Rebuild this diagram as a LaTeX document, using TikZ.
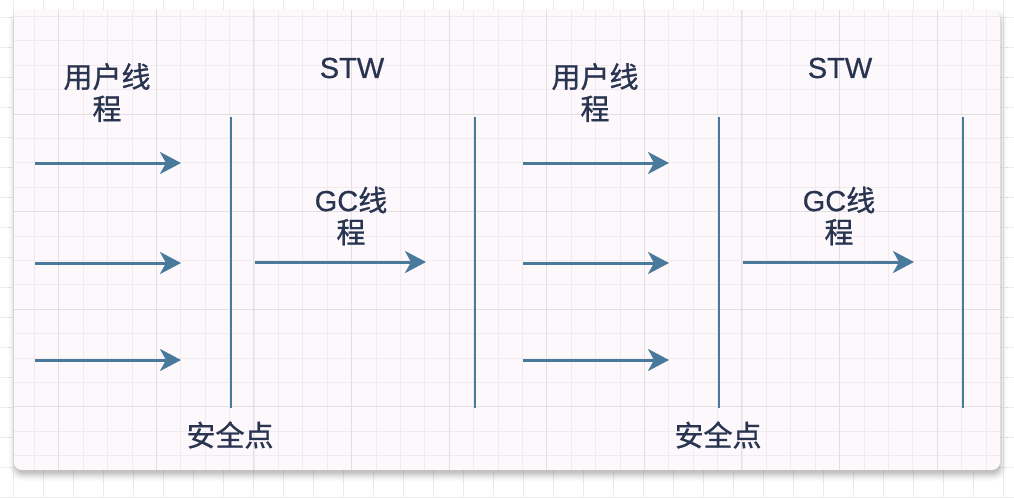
\documentclass[tikz,border=0pt]{standalone}
\usepackage{fontspec}
\setmainfont[FakeBold=0.6]{Liberation Sans}
\newfontfamily\cjk[FakeBold=0.9]{Noto Sans CJK SC}
\usetikzlibrary{arrows.meta, shadows.blur}
\definecolor{flow}{RGB}{74,122,155}
\definecolor{ink}{RGB}{40,52,80}
\definecolor{paper}{RGB}{252,248,251}
\definecolor{gridminor}{RGB}{241,235,239}
\definecolor{gridmajor}{RGB}{228,221,226}
\definecolor{gridout}{RGB}{236,236,236}

\begin{document}
\begin{tikzpicture}[x=1pt, y=-1pt,
    thread/.style={draw=flow, line width=3pt, -{Stealth[length=21pt, width=22pt, inset=6pt]}},
    barrier/.style={draw=flow, line width=2.8pt},
    caption/.style={text=ink, inner sep=0pt, align=center, font=\cjk\fontsize{29}{32}\selectfont}]

    \useasboundingbox (0,0) rectangle (1014,498);

    % background grid
    \foreach \x in {13,43,...,1003} \draw[gridout, line width=0.8pt] (\x,0) -- (\x,498);
    \foreach \y in {17,47,...,497} \draw[gridout, line width=0.8pt] (0,\y) -- (1014,\y);

    % card
    \path[fill=paper, rounded corners=8pt, blur shadow={shadow xshift=1pt, shadow yshift=-5pt,
          shadow blur radius=6pt, shadow opacity=30}] (14,10) rectangle (1000,470);
    \begin{scope}
        \clip[rounded corners=8pt] (14,10) rectangle (1000,470);
        \foreach \x in {9.9,34.3,...,1000} \draw[gridminor, line width=0.8pt] (\x,10) -- (\x,470);
        \foreach \y in {16.4,40.8,...,470} \draw[gridminor, line width=0.8pt] (14,\y) -- (1000,\y);
        \foreach \x in {58.7,156.3,...,1000} \draw[gridmajor, line width=0.9pt] (\x,10) -- (\x,470);
        \foreach \y in {114,211.6,...,470} \draw[gridmajor, line width=0.9pt] (14,\y) -- (1000,\y);
    \end{scope}

    % two rounds: user threads, safepoint, GC thread
    \foreach \s/\dx in {1/0, 2/488} {
        \begin{scope}[xshift=\dx pt]
            \node[caption] (user\s) at (107,92.5) {用户线\\程};
            \node[caption, font=\rmfamily\fontsize{29}{32}\selectfont] (stw\s) at (352,68) {STW};
            \node[caption] (gc\s) at (351,216) {{\rmfamily GC}线\\程};
            \node[caption] (safe\s) at (230,435) {安全点};

            % user thread arrows
            \foreach \y [count=\i] in {163,263,360} {
                \coordinate (in\s\i) at (35,\y);
                \coordinate (out\s\i) at (181,\y);
                \draw[thread] (in\s\i) -- (out\s\i);
            }

            % safepoint and end of STW
            \coordinate (safetop\s) at (231,117);
            \coordinate (safebot\s) at (231,408);
            \coordinate (stwtop\s) at (475,117);
            \coordinate (stwbot\s) at (475,408);
            \draw[barrier] (safetop\s) -- (safebot\s);
            \draw[barrier] (stwtop\s) -- (stwbot\s);

            % GC thread arrow
            \coordinate (gcin\s) at (255,262);
            \coordinate (gcout\s) at (426,262);
            \draw[thread] (gcin\s) -- (gcout\s);
        \end{scope}
    }
\end{tikzpicture}
\end{document}
